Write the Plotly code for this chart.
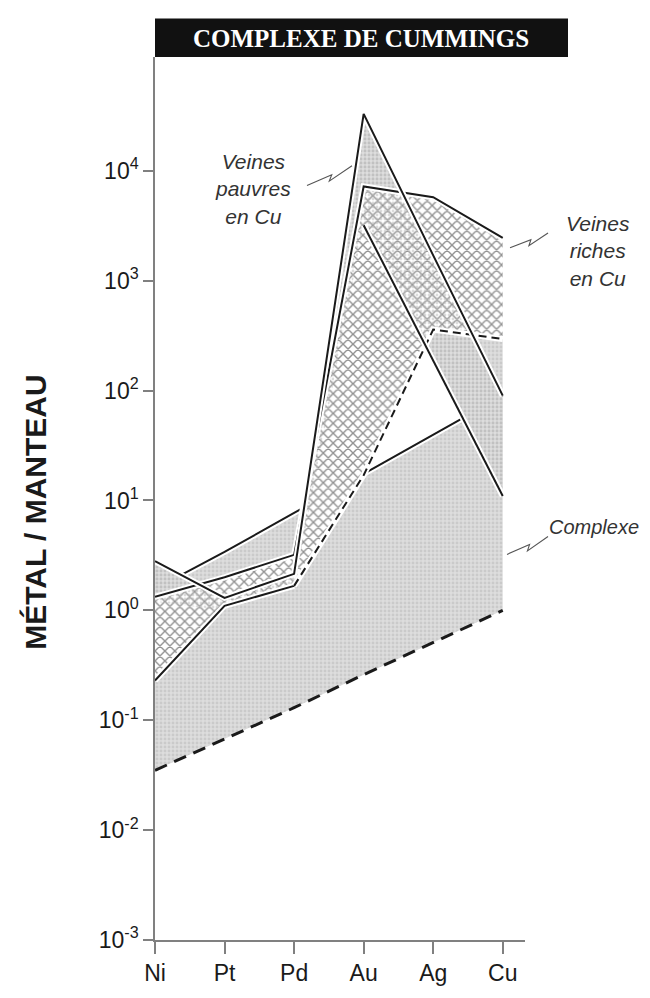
import math
import plotly.graph_objects as go

# elements (mantle-normalised)
elements = ["Ni", "Pt", "Pd", "Au", "Ag", "Cu"]

# Complexe field
complexe_bas = [0.035, 0.068, 0.13, 0.26, 0.51, 1.0]
complexe_haut = [1.57, 3.4, 7.7, 17.5, 40, 90]

# Veines pauvres en Cu
pauvres_haut = [2.8, 1.3, 2.15, 33000, 1700, 90]
pauvres_bas = [1.2, 1.0, 1.6, 3200, 190, 11]

# Veines riches en Cu
riches_haut = [1.33, 2.0, 3.2, 7200, 5750, 2450]
riches_bas = [0.23, 1.1, 1.67, 17, 360, 295]

y_tickvals = [1e-3, 1e-2, 1e-1, 1e0, 1e1, 1e2, 1e3, 1e4]
y_ticktext = ["10<sup>-3</sup>", "10<sup>-2</sup>", "10<sup>-1</sup>", "10<sup>0</sup>",
              "10<sup>1</sup>", "10<sup>2</sup>", "10<sup>3</sup>", "10<sup>4</sup>"]

GRAY = "#dddddd"
DOTS = dict(shape=".", fgcolor="#b8b8b8", size=4, solidity=0.4)
INK = "#1a1a1a"
FONT = "Liberation Sans"

fig = go.Figure()


def polygon(top, bottom):
    return elements + elements[::-1], list(top) + list(bottom)[::-1]


def line(x, y, dash="solid", width=2, halo=True):
    if halo:
        fig.add_trace(go.Scatter(x=x, y=y, mode="lines",
                                 line=dict(color="white", width=width + 4)))
    fig.add_trace(go.Scatter(x=x, y=y, mode="lines",
                             line=dict(color=INK, width=width, dash=dash)))


# Complexe fill + upper limit
x, y = polygon(complexe_haut, complexe_bas)
fig.add_trace(go.Scatter(x=x, y=y, fill="toself", mode="none", fillcolor=GRAY,
                         fillpattern=dict(bgcolor=GRAY, **DOTS)))
line(elements, complexe_haut)

# Veines pauvres: gray field (closes on the riches lower limit at Cu)
x, y = polygon(pauvres_haut[:5] + riches_bas[5:], pauvres_bas)
fig.add_trace(go.Scatter(x=x, y=y, fill="toself", mode="none", fillcolor=GRAY,
                         fillpattern=dict(bgcolor=GRAY, **DOTS)))

# Veines riches: crosshatch
x, y = polygon(riches_haut, riches_bas)
fig.add_trace(go.Scatter(x=x, y=y, fill="toself", mode="none", fillcolor="white",
                         fillpattern=dict(shape="x", fgcolor="#262626", bgcolor="white",
                                          size=7, solidity=0.36)))

# overlap pauvres/riches: stipple on top of the crosshatch
x, y = polygon(pauvres_haut, pauvres_bas)
fig.add_trace(go.Scatter(x=x, y=y, fill="toself", mode="none",
                         fillcolor="rgba(0,0,0,0)",
                         fillpattern=dict(bgcolor="rgba(0,0,0,0)", **DOTS)))

# outlines
line(elements, complexe_bas, dash="13px,8px", width=3, halo=False)
line(elements, riches_haut)
line(elements[:3], riches_bas[:3])
line(elements[2:], riches_bas[2:], dash="8px,5px")
line(elements, pauvres_haut)
line(elements[3:], pauvres_bas[3:])


# ---- decorations, positioned in page pixels (page has an 8px body margin)
OFF = 8
L, T, W, H = 155, 57, 370, 893


def px(xp):
    return (xp - L) / W


def py(yp):
    return (T + H - yp) / H


def zigzag(x0, y0, x1, y1):
    dx, dy = x1 - x0, y1 - y0
    n = math.hypot(dx, dy)
    nx, ny = dy / n, -dx / n
    pts = [(x0, y0), (x0 + 0.55 * dx, y0 + 0.55 * dy),
           (x0 + 0.45 * dx - 5 * nx, y0 + 0.45 * dy - 5 * ny), (x1, y1)]
    return "M " + " L ".join(f"{px(a):.4f},{py(b):.4f}" for a, b in pts)


shapes = [dict(type="rect", xref="paper", yref="paper",
               x0=px(155), x1=px(568), y0=py(57), y1=py(18),
               fillcolor="#111111", line=dict(width=0))]
for seg in [(307, 187, 352, 167), (510, 250, 548, 235), (507, 560, 548, 542)]:
    shapes.append(dict(type="path", xref="paper", yref="paper", path=zigzag(*seg),
                       line=dict(color="#555555", width=1.1)))

label_font = dict(family=FONT, size=21, color="#333333", style="italic")


def note(text, xp, yp, font, **kw):
    return dict(text=text, x=px(xp), y=py(yp), xref="paper", yref="paper",
                xanchor="center", yanchor="middle", showarrow=False, font=font, **kw)


annotations = [
    note("<b>COMPLEXE DE CUMMINGS</b>", 361, 38,
         dict(family="Liberation Serif", size=25, color="white")),
    note("Veines<br>pauvres<br>en Cu", 253, 190, label_font, align="center"),
    note("Veines<br>riches<br>en Cu", 598, 253, label_font, align="center"),
    note("Complexe", 594, 532, dict(label_font, size=20)),
    note("<b>MÉTAL / MANTEAU</b>", 36, 517, dict(family=FONT, size=30, color=INK),
         textangle=-90),
]

axis_style = dict(showline=True, linecolor="#808080", linewidth=1.5, ticks="outside",
                  tickcolor="#808080", tickwidth=1.5, showgrid=False, zeroline=False,
                  tickfont=dict(family=FONT, size=23, color=INK))

fig.update_xaxes(type="category", categoryorder="array", categoryarray=elements,
                 range=[0, 5.32], ticklen=12, **axis_style)
fig.update_yaxes(type="log", range=[-3, 5.036], tickvals=y_tickvals, ticktext=y_ticktext,
                 ticklen=10, **axis_style)

fig.update_layout(
    width=650 - OFF, height=998 - OFF,
    margin=dict(l=L - OFF, r=650 - L - W, t=T - OFF, b=998 - T - H),
    paper_bgcolor="white", plot_bgcolor="white",
    showlegend=False, hovermode=False,
    shapes=shapes, annotations=annotations,
)

fig.write_html("out.html")
